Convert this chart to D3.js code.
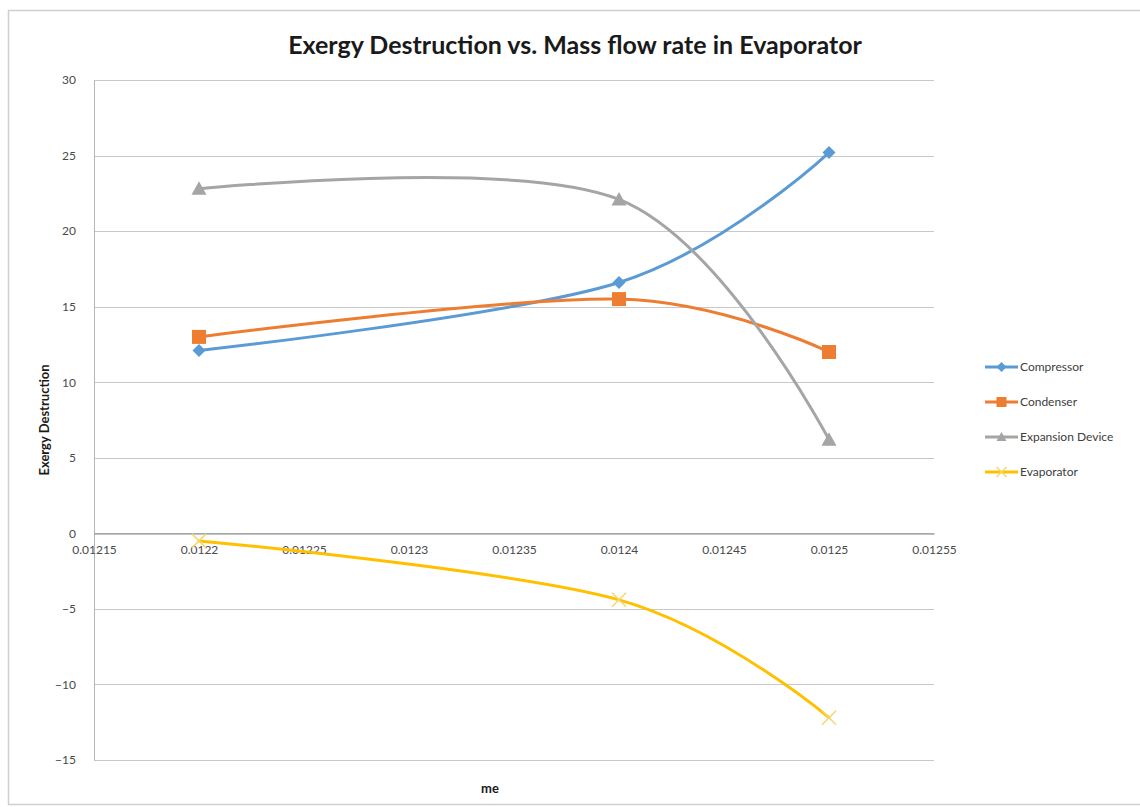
<!DOCTYPE html>
<html><head><meta charset="utf-8">
<script src="https://cdn.jsdelivr.net/npm/d3@7"></script>
<style>body{margin:0;background:#fff;}svg{display:block;font-family:Lato,"Open Sans",sans-serif;}</style>
</head><body><svg id="c" width="1140" height="807"></svg>
<script>
const xValues = [0.0122, 0.0124, 0.0125];
const compressor = [12.1, 16.6, 25.2];
const condenser = [13.0, 15.5, 12.0];
const expansion = [22.8, 22.1, 6.2];
const evaporator = [-0.5, -4.4, -12.2];
const seriesNames = ["Compressor", "Condenser", "Expansion Device", "Evaporator"];
const xTicks = [0.01215, 0.0122, 0.01225, 0.0123, 0.01235, 0.0124, 0.01245, 0.0125, 0.01255];
const xTickLabels = ["0.01215","0.0122","0.01225","0.0123","0.01235","0.0124","0.01245","0.0125","0.01255"];
const yTicks = [-15, -10, -5, 0, 5, 10, 15, 20, 25, 30];

const colors = ["#5B9BD5", "#ED7D31", "#A5A5A5", "#FFC000"];
const markers = ["diamond", "square", "triangle", "x"];
const seriesData = [compressor, condenser, expansion, evaporator];

const svg = d3.select("#c");
svg.append("rect").attr("x", 8.5).attr("y", 10.5).attr("width", 1135).attr("height", 794)
  .attr("fill", "#fff").attr("stroke", "#cfcfcf").attr("stroke-width", 1.5);

const x = d3.scaleLinear().domain([0.01215, 0.01255]).range([94, 934]);
const y = d3.scaleLinear().domain([-15, 30]).range([760, 80]);

// gridlines
svg.append("g").selectAll("line").data(yTicks).join("line")
  .attr("x1", 94).attr("x2", 934)
  .attr("y1", d => Math.round(y(d)) + 0.5).attr("y2", d => Math.round(y(d)) + 0.5)
  .attr("stroke", "#c8c8c8").attr("stroke-width", 1.2);

// y axis
const yAxis = svg.append("g").attr("transform", "translate(94,0)")
  .call(d3.axisLeft(y).tickValues(yTicks).tickSize(0).tickPadding(18));
yAxis.select(".domain").attr("stroke", "#b5b5b5");
yAxis.selectAll("text").attr("fill", "#4a4a4a").style("font-size", "12px").style("font-family", "Lato, sans-serif");

// x axis at y=0
const xAxis = svg.append("g").attr("transform", `translate(0,${Math.round(y(0)) + 0.5})`)
  .call(d3.axisBottom(x).tickValues(xTicks).tickFormat((d, i) => xTickLabels[i]).tickSize(0).tickPadding(12));
xAxis.select(".domain").attr("stroke", "#868686");
xAxis.selectAll("text").attr("fill", "#4a4a4a").style("font-size", "12px").style("font-family", "Lato, sans-serif");

// lines
const line = d3.line().x(d => x(d[0])).y(d => y(d[1])).curve(d3.curveCatmullRom.alpha(0));
seriesData.forEach((vals, i) => {
  const pts = xValues.map((xv, j) => [xv, vals[j]]);
  svg.append("path").datum(pts).attr("d", line)
    .attr("fill", "none").attr("stroke", colors[i]).attr("stroke-width", 3).attr("stroke-linecap", "round");
});

function drawMarker(g, type, cx, cy, color, s) {
  if (type === "diamond") {
    g.append("path").attr("d", `M${cx},${cy - s}L${cx + s},${cy}L${cx},${cy + s}L${cx - s},${cy}Z`).attr("fill", color);
  } else if (type === "square") {
    g.append("rect").attr("x", cx - s).attr("y", cy - s).attr("width", 2 * s).attr("height", 2 * s).attr("fill", color);
  } else if (type === "triangle") {
    g.append("path").attr("d", `M${cx},${cy - s}L${cx + s},${cy + s * 0.8}L${cx - s},${cy + s * 0.8}Z`).attr("fill", color);
  } else {
    g.append("path").attr("d", `M${cx - s},${cy - s}L${cx + s},${cy + s}M${cx - s},${cy + s}L${cx + s},${cy - s}`)
      .attr("stroke", color).attr("stroke-width", 1.5).attr("fill", "none");
  }
}
const sizes = [6.5, 7, 7.5, 7];
const mg = svg.append("g");
seriesData.forEach((vals, i) => {
  xValues.forEach((xv, j) => drawMarker(mg, markers[i], x(xv), y(vals[j]), i === 3 ? "#F5D76E" : colors[i], sizes[i]));
});

// title
svg.append("text").attr("x", 575).attr("y", 54).attr("text-anchor", "middle")
  .style("font-size", "25px").style("font-weight", "bold").attr("fill", "#1a1a1a")
  .style("font-family", "Lato, sans-serif").text("Exergy Destruction vs. Mass flow rate in Evaporator");

// axis titles
svg.append("text").attr("transform", "translate(49,420) rotate(-90)").attr("text-anchor", "middle")
  .style("font-size", "13px").style("font-weight", "bold").attr("fill", "#1a1a1a").text("Exergy Destruction");
svg.append("text").attr("x", 490).attr("y", 793).attr("text-anchor", "middle")
  .style("font-size", "13px").style("font-weight", "bold").attr("fill", "#1a1a1a").text("me");

// legend
const leg = svg.append("g");
seriesNames.forEach((name, i) => {
  const ly = 367 + i * 35;
  leg.append("line").attr("x1", 985).attr("x2", 1018).attr("y1", ly).attr("y2", ly)
    .attr("stroke", colors[i]).attr("stroke-width", 3);
  drawMarker(leg, markers[i], 1001.5, ly, i === 3 ? "#F5D76E" : colors[i], 5);
  leg.append("text").attr("x", 1020).attr("y", ly + 4).style("font-size", "12px").attr("fill", "#404040").text(name);
});
</script>
</body></html>
